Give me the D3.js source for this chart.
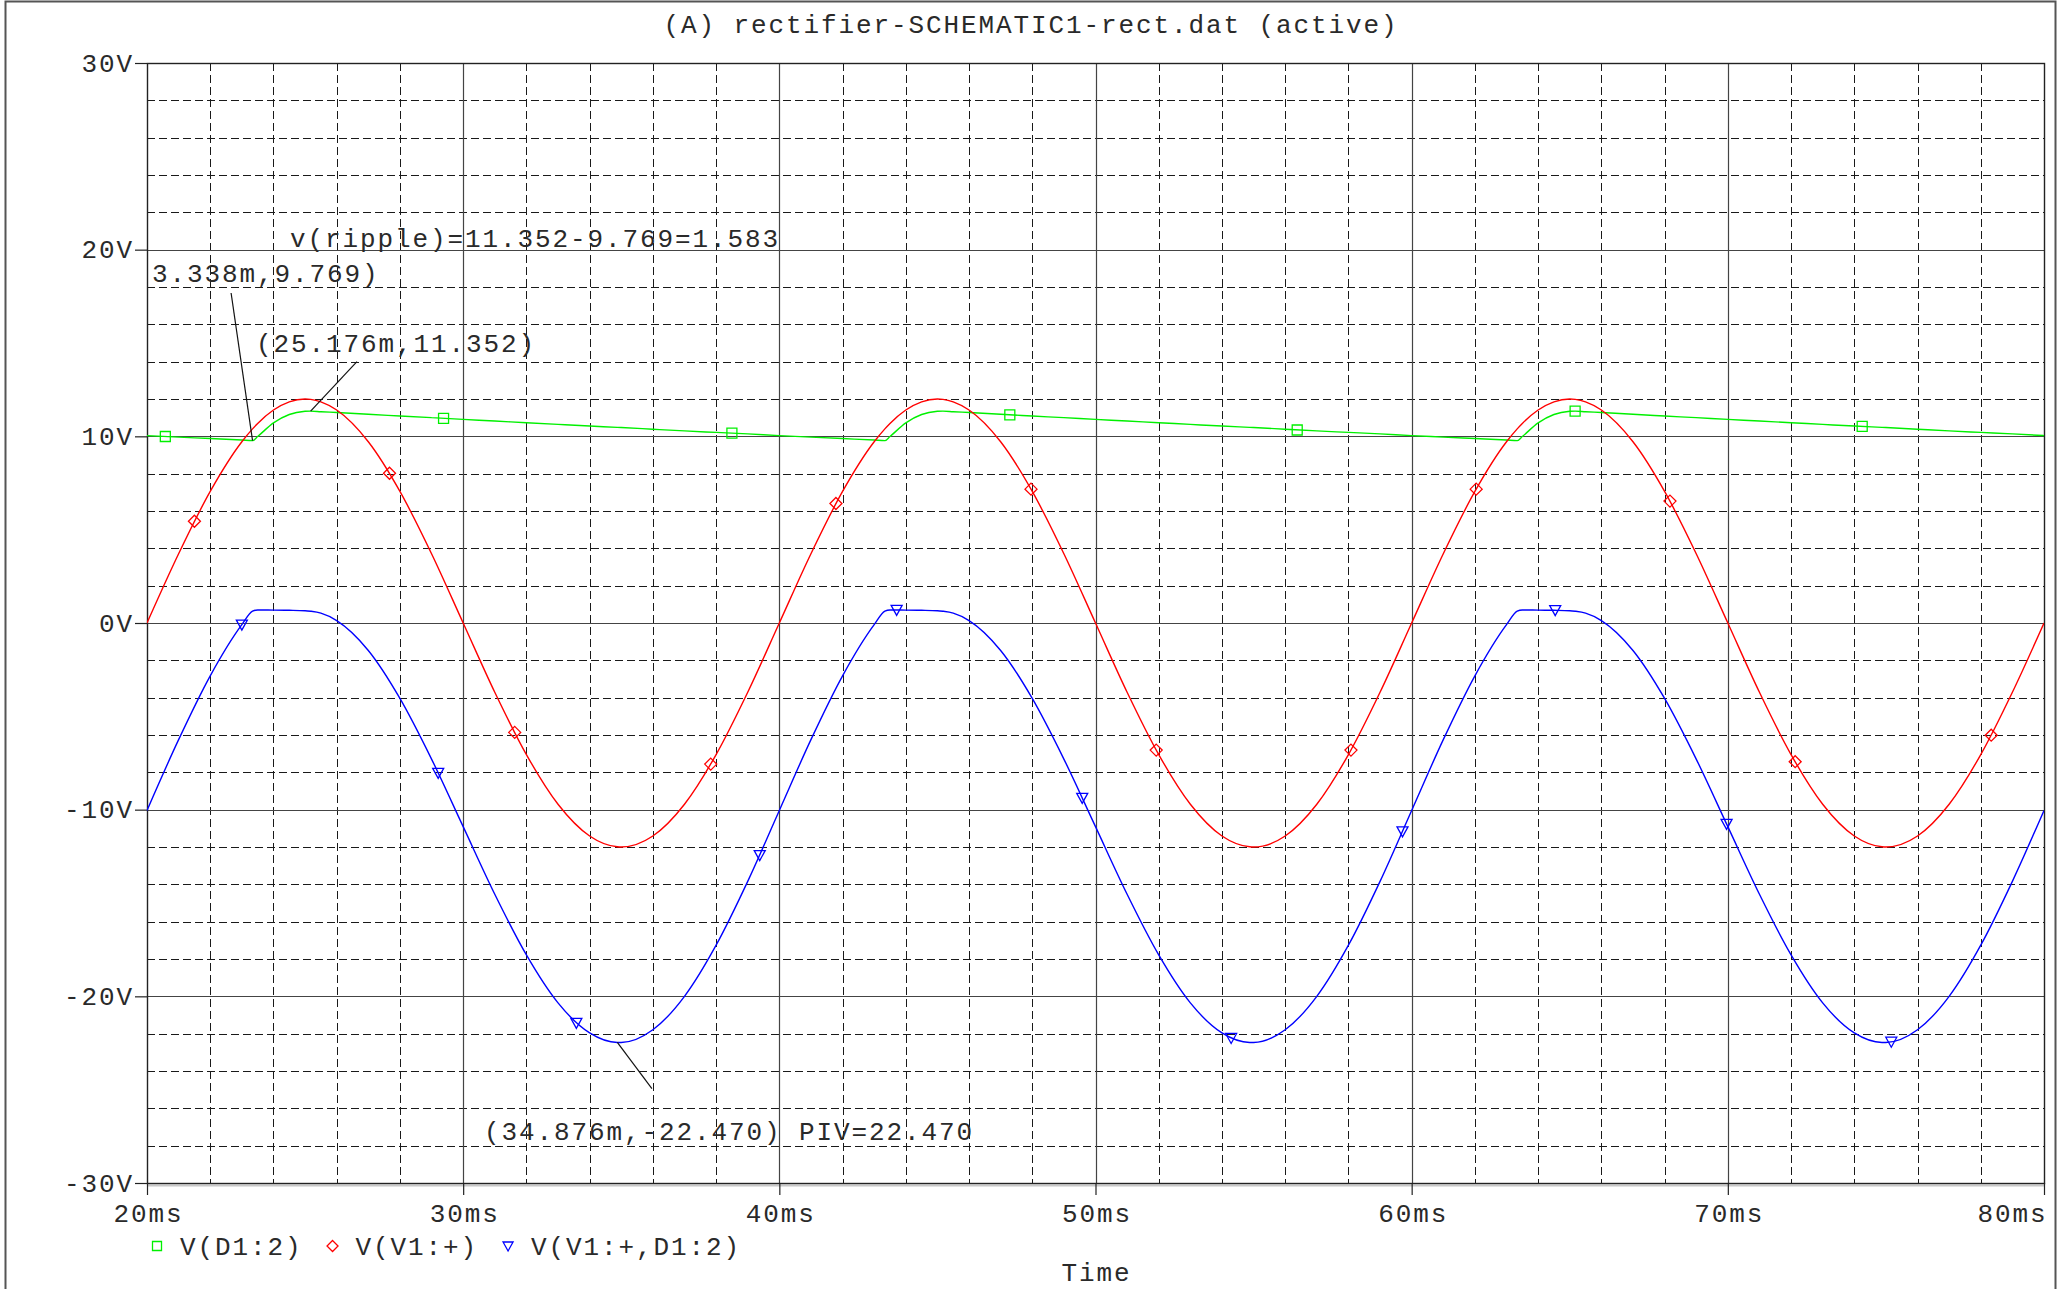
<!DOCTYPE html>
<html><head><meta charset="utf-8">
<script src="https://cdn.jsdelivr.net/npm/d3@7"></script>
<style>
html,body{margin:0;padding:0;background:#fff;}
svg{display:block;}
text{font-family:"Liberation Mono","DejaVu Sans Mono",monospace;font-size:26px;letter-spacing:1.9px;fill:#2a2a2a;}
</style></head><body>
<svg id="chart" width="2065" height="1289"></svg>
<script>
// ---------------- data ----------------
const title = "(A) rectifier-SCHEMATIC1-rect.dat (active)";
const xAxisTitle = "Time";
const seriesNames = ["V(D1:2)", "V(V1:+)", "V(V1:+,D1:2)"];

const timeMs = [
  20,21,22,23,23.338,23.5,24,24.5,25,25.176,25.5,26,27,28,29,30,31,32,33,34,34.876,35,36,37,38,39,40,41,42,43,
  43.338,43.5,44,44.5,45,45.176,45.5,46,47,48,49,50,51,52,53,54,54.876,55,56,57,58,59,60,61,62,63,
  63.338,63.5,64,64.5,65,65.176,65.5,66,67,68,69,70,71,72,73,74,74.876,75,76,77,78,79,80
];
// V(D1:2)  (output / capacitor voltage)
const vOut = [
  10.04,9.96,9.88,9.80,9.769,9.99,10.72,11.17,11.34,11.352,11.32,11.28,11.18,11.09,11.00,10.91,10.82,10.73,10.64,10.55,10.48,10.47,10.38,10.29,10.21,10.13,10.04,9.96,9.88,9.80,
  9.769,9.99,10.72,11.17,11.34,11.352,11.32,11.28,11.18,11.09,11.00,10.91,10.82,10.73,10.64,10.55,10.48,10.47,10.38,10.29,10.21,10.13,10.04,9.96,9.88,9.80,
  9.769,9.99,10.72,11.17,11.34,11.352,11.32,11.28,11.18,11.09,11.00,10.91,10.82,10.73,10.64,10.55,10.48,10.47,10.38,10.29,10.21,10.13,10.04
];
// V(V1:+)  (source voltage)
const vIn = [
  0,3.71,7.05,9.71,10.40,10.69,11.41,11.85,12.00,11.98,11.85,11.41,9.71,7.05,3.71,0,-3.71,-7.05,-9.71,-11.41,-11.99,-12.00,-11.41,-9.71,-7.05,-3.71,0,3.71,7.05,9.71,
  10.40,10.69,11.41,11.85,12.00,11.98,11.85,11.41,9.71,7.05,3.71,0,-3.71,-7.05,-9.71,-11.41,-11.99,-12.00,-11.41,-9.71,-7.05,-3.71,0,3.71,7.05,9.71,
  10.40,10.69,11.41,11.85,12.00,11.98,11.85,11.41,9.71,7.05,3.71,0,-3.71,-7.05,-9.71,-11.41,-11.99,-12.00,-11.41,-9.71,-7.05,-3.71,0
];
// V(V1:+,D1:2)  (voltage across the diode)
const vDiode = [
  -10.04,-6.25,-2.83,-0.09,0.63,0.70,0.69,0.68,0.66,0.63,0.53,0.13,-1.47,-4.04,-7.29,-10.91,-14.53,-17.78,-20.35,-21.96,-22.47,-22.47,-21.79,-20.00,-17.26,-13.84,-10.04,-6.25,-2.83,-0.09,
  0.63,0.70,0.69,0.68,0.66,0.63,0.53,0.13,-1.47,-4.04,-7.29,-10.91,-14.53,-17.78,-20.35,-21.96,-22.47,-22.47,-21.79,-20.00,-17.26,-13.84,-10.04,-6.25,-2.83,-0.09,
  0.63,0.70,0.69,0.68,0.66,0.63,0.53,0.13,-1.47,-4.04,-7.29,-10.91,-14.53,-17.78,-20.35,-21.96,-22.47,-22.47,-21.79,-20.00,-17.26,-13.84,-10.04
];

// marker samples
const outMarkT = [20.58,29.38,38.5,47.29,56.38,65.17,74.25];
const outMarkV = [9.99,10.96,10.17,11.15,10.34,11.35,10.53];
const inMarkT  = [21.5,27.67,31.63,37.83,41.79,47.96,51.92,58.08,62.04,68.17,72.13,78.33];
const inMarkV  = [5.45,8.02,-5.86,-7.56,6.40,7.17,-6.81,-6.81,7.17,6.53,-7.43,-6.01];
const dMarkT   = [23.0,29.21,33.58,39.38,43.71,49.58,54.29,59.71,64.54,69.96,75.17];
const dMarkV   = [-0.09,-8.03,-21.42,-12.43,0.70,-9.37,-22.23,-11.16,0.69,-10.76,-22.43];

// ticks
const xMajorTicks = [20,30,40,50,60,70,80];
const xMinorTicks = [22,24,26,28,32,34,36,38,42,44,46,48,52,54,56,58,62,64,66,68,72,74,76,78];
const yMajorTicks = [30,20,10,0,-10,-20,-30];
const yMinorTicks = [28,26,24,22,18,16,14,12,8,6,4,2,-2,-4,-6,-8,-12,-14,-16,-18,-22,-24,-26,-28];

// cursor annotations (data coordinates)
const annoText  = ["v(ripple)=11.352-9.769=1.583", "3.338m,9.769)", "(25.176m,11.352)", "(34.876m,-22.470) PIV=22.470"];
const annoLabelT = [24.52, 20.16, 23.45, 30.66];
const annoLabelV = [20.15, 18.26, 14.52, -27.7];
const annoFrom = [null, [22.66, 17.68], [26.64, 14.0], [35.97, -24.94]];
const annoTo   = [null, [23.338, 9.769], [25.176, 11.352], [34.876, -22.47]];

// ---------------- layout / style ----------------
const W = 2065, H = 1289;
const L = 147, R = 2044, T = 63, B = 1183;
const colors = ["#00f000", "#ff0000", "#0000ff"];
const FONT = '"Liberation Mono","DejaVu Sans Mono",monospace';

const svg = d3.select("#chart");
const x = d3.scaleLinear().domain([20, 80]).range([L, R]);
const y = d3.scaleLinear().domain([-30, 30]).range([B, T]);

// outer frame
svg.append("rect").attr("x", 5.5).attr("y", 1.5).attr("width", 2050).attr("height", H + 20)
  .attr("fill", "none").attr("stroke", "#555").attr("stroke-width", 2);

// title
svg.append("text").attr("x", 1031).attr("y", 33).attr("text-anchor", "middle").text(title);

// clip
svg.append("defs").append("clipPath").attr("id", "plotclip")
  .append("rect").attr("x", L).attr("y", T).attr("width", R - L).attr("height", B - T);

const grid = svg.append("g");
// minor dashed grid
grid.selectAll(".vmin").data(xMinorTicks).join("line")
  .attr("x1", d => Math.round(x(d)) + 0.5).attr("x2", d => Math.round(x(d)) + 0.5)
  .attr("y1", T).attr("y2", B)
  .attr("stroke", "#1a1a1a").attr("stroke-width", 1).attr("stroke-dasharray", "8,4");
grid.selectAll(".hmin").data(yMinorTicks).join("line")
  .attr("y1", d => Math.round(y(d)) + 0.5).attr("y2", d => Math.round(y(d)) + 0.5)
  .attr("x1", L).attr("x2", R)
  .attr("stroke", "#1a1a1a").attr("stroke-width", 1).attr("stroke-dasharray", "8,4");
// major solid grid
grid.selectAll(".vmaj").data(xMajorTicks.slice(1, -1)).join("line")
  .attr("x1", d => Math.round(x(d)) + 0.5).attr("x2", d => Math.round(x(d)) + 0.5)
  .attr("y1", T).attr("y2", B).attr("stroke", "#444").attr("stroke-width", 1.2);
grid.selectAll(".hmaj").data(yMajorTicks.slice(1, -1)).join("line")
  .attr("y1", d => Math.round(y(d)) + 0.5).attr("y2", d => Math.round(y(d)) + 0.5)
  .attr("x1", L).attr("x2", R).attr("stroke", "#444").attr("stroke-width", 1.2);

// plot frame
svg.append("line").attr("x1", L).attr("x2", R + 1).attr("y1", B + 2.5).attr("y2", B + 2.5)
  .attr("stroke", "#c8c8c8").attr("stroke-width", 2);
svg.append("rect").attr("x", L + 0.5).attr("y", T + 0.5).attr("width", R - L).attr("height", B - T)
  .attr("fill", "none").attr("stroke", "#222").attr("stroke-width", 1.4);

// axes
const xAxis = d3.axisBottom(x).tickValues(xMajorTicks).tickSize(12).tickPadding(9)
  .tickFormat(d => d + "ms");
const gx = svg.append("g").attr("transform", `translate(0,${B})`).call(xAxis);
gx.select(".domain").remove();
gx.selectAll(".tick line").attr("stroke", "#222").attr("stroke-width", 1.2);
gx.selectAll(".tick text").attr("fill", "#2a2a2a").style("font-size", "26px").style("font-family", FONT)
  .attr("text-anchor", (d, i, n) => i === n.length - 1 ? "end" : "middle")
  .attr("dx", (d, i, n) => i === n.length - 1 ? "3" : "1");

const yAxis = d3.axisLeft(y).tickValues(yMajorTicks).tickSize(12).tickPadding(1)
  .tickFormat(d => d + "V");
const gy = svg.append("g").attr("transform", `translate(${L},0)`).call(yAxis);
gy.select(".domain").remove();
gy.selectAll(".tick line").attr("stroke", "#222").attr("stroke-width", 1.2);
gy.selectAll(".tick text").attr("fill", "#2a2a2a").style("font-size", "26px").style("font-family", FONT);

// series
const seriesData = [vOut, vIn, vDiode];
const line = d3.line().x(d => x(d[0])).y(d => y(d[1])).curve(d3.curveMonotoneX);
const plot = svg.append("g").attr("clip-path", "url(#plotclip)");
seriesData.forEach((vals, k) => {
  const pts = timeMs.map((t, i) => [t, vals[i]]);
  plot.append("path").datum(pts).attr("d", line)
    .attr("fill", "none").attr("stroke", colors[k]).attr("stroke-width", 1.4);
});

// marker shapes
function markerPath(kind, s) {
  const h = s / 2;
  if (kind === 0) return `M${-h},${-h}H${h}V${h}H${-h}Z`;
  if (kind === 1) return `M0,${-h - 1}L${h + 1},0L0,${h + 1}L${-h - 1},0Z`;
  return `M${-h - 0.5},${-h + 0.5}H${h + 0.5}L0,${h + 0.5}Z`;
}
const markT = [outMarkT, inMarkT, dMarkT];
const markV = [outMarkV, inMarkV, dMarkV];
markT.forEach((ts, k) => {
  plot.selectAll(".m" + k).data(ts.map((t, i) => [t, markV[k][i]])).join("path")
    .attr("transform", d => `translate(${x(d[0])},${y(d[1])})`)
    .attr("d", markerPath(k, 10))
    .attr("fill", "none").attr("stroke", colors[k]).attr("stroke-width", 1.3);
});

// annotations
const anno = svg.append("g");
annoText.forEach((txt, i) => {
  anno.append("text").attr("x", x(annoLabelT[i])).attr("y", y(annoLabelV[i])).text(txt);
  if (annoFrom[i]) {
    anno.append("line")
      .attr("x1", x(annoFrom[i][0])).attr("y1", y(annoFrom[i][1]))
      .attr("x2", x(annoTo[i][0])).attr("y2", y(annoTo[i][1]))
      .attr("stroke", "#111").attr("stroke-width", 1.2);
  }
});

// legend
const leg = svg.append("g").attr("transform", "translate(0,1246)");
let lx = 157;
seriesNames.forEach((name, k) => {
  leg.append("path").attr("transform", `translate(${lx},0)`).attr("d", markerPath(k, 9))
    .attr("fill", "none").attr("stroke", colors[k]).attr("stroke-width", 1.3);
  const t = leg.append("text").attr("x", lx + 23).attr("y", 0).attr("dy", "0.35em").text(name);
  lx = lx + 23 + t.node().getComputedTextLength() + 30;
});

// x axis title
svg.append("text").attr("x", (L + R) / 2 + 1).attr("y", 1281).attr("text-anchor", "middle").text(xAxisTitle);
</script>
</body></html>
